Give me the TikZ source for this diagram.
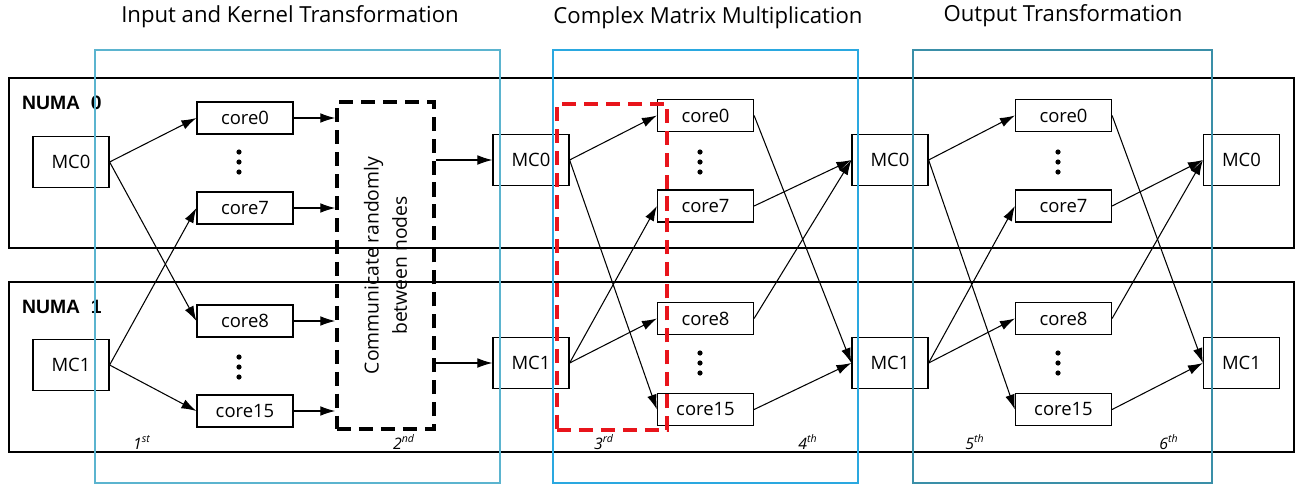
\documentclass[tikz,border=0pt]{standalone}
\usepackage{fontspec}
\setmainfont{Open Sans}
\setsansfont{Liberation Sans}
\usetikzlibrary{arrows.meta,positioning,shapes,fit,calc}

\definecolor{phaseA}{HTML}{5BB4CF}
\definecolor{phaseB}{HTML}{2AA8E0}
\definecolor{phaseC}{HTML}{3A8FA8}
\definecolor{pickred}{HTML}{E8141B}

\tikzset{
  numabox/.style={draw,line width=1.1pt,minimum width=25.7cm,minimum height=3.4cm,inner sep=0pt},
  numalabel/.style={anchor=west,font=\sffamily\bfseries\fontsize{11}{12}\selectfont},
  phasebox/.style={draw,line width=1pt,minimum width=#1,minimum height=8.66cm,inner sep=0pt},
  mcbox/.style={draw,line width=0.7pt,minimum width=1.52cm,minimum height=1.02cm,inner sep=0pt,font=\fontsize{10.5}{12}\selectfont},
  corebox/.style={draw,line width=0.7pt,minimum width=1.92cm,minimum height=0.64cm,inner sep=0pt,font=\fontsize{10.5}{12}\selectfont},
  arr/.style={-{Latex[length=8.5pt,width=5.5pt]},line width=0.6pt},
  groupbox/.style={line width=2pt,dash pattern=on 8pt off 4.5pt},
  phasetitle/.style={font=\fontsize{12.6}{15}\selectfont},
  order/.style={anchor=base,font=\itshape\fontsize{9}{10}\selectfont},
}

\begin{document}
\begin{tikzpicture}[x=0.02cm,y=-0.02cm]
  \useasboundingbox (0,0) rectangle (1296,487);

  % NUMA regions
  \node[numabox] (numa0) at (651.5,163) {};
  \node[numabox] (numa1) at (651.5,367) {};
  \node[numalabel] (numa0l) at (16,103) {NUMA\ \ 0};
  \node[numalabel] (numa1l) at (16,307) {NUMA\ \ 1};

  % memory controllers
  \node[mcbox] (mc0a) at (71,162) {MC0};
  \node[mcbox] (mc1a) at (71,365) {MC1};
  \node[mcbox] (mc0b) at (531,160) {MC0};
  \node[mcbox] (mc1b) at (531,363) {MC1};
  \node[mcbox] (mc0c) at (890,160) {MC0};
  \node[mcbox] (mc1c) at (890,363) {MC1};
  \node[mcbox] (mc0d) at (1241.5,160) {MC0};
  \node[mcbox] (mc1d) at (1241.5,363) {MC1};

  % cores
  \node[corebox] (core0a) at (245,118) {core0};
  \node[corebox] (core7a) at (245,208) {core7};
  \node[corebox] (core8a) at (245,321) {core8};
  \node[corebox] (core15a) at (245,411) {core15};
  \node[corebox] (core0b) at (705.5,115.5) {core0};
  \node[corebox] (core7b) at (705.5,206) {core7};
  \node[corebox] (core8b) at (705.5,318.5) {core8};
  \node[corebox] (core15b) at (705.5,409.5) {core15};
  \node[corebox] (core0c) at (1063.5,115.5) {core0};
  \node[corebox] (core7c) at (1063.5,206) {core7};
  \node[corebox] (core8c) at (1063.5,318.5) {core8};
  \node[corebox] (core15c) at (1063.5,409.5) {core15};

  % vertical dots
  \foreach \x/\y in {239/152,239/357,700/152,700/353,1058/152,1058/353}
    \foreach \d in {0,10,20}
      \fill (\x,\y+\d) circle (2.6);

  % random exchange
  \node[draw,groupbox,minimum width=1.94cm,minimum height=6.54cm] (comm) at (385.5,265.5) {};
  \node[rotate=90,align=center,font=\fontsize{11}{16}\selectfont] (commtext) at (comm.center) {Communicate randomly\\between nodes};

  % stage 1
  \draw[arr] (mc0a.east) -- (core0a.west);
  \draw[arr] (mc0a.east) -- (core8a.west);
  \draw[arr] (mc1a.east) -- (core7a.west);
  \draw[arr] (mc1a.east) -- (core15a.west);
  \draw[arr] (core0a) -- (core0a -| comm.west);
  \draw[arr] (core7a) -- (core7a -| comm.west);
  \draw[arr] (core8a) -- (core8a -| comm.west);
  \draw[arr] (core15a) -- (core15a -| comm.west);
  \draw[arr] (comm.east |- mc0b) -- (mc0b);
  \draw[arr] (comm.east |- mc1b) -- (mc1b);

  % stage 2
  \draw[arr] (mc0b.east) -- (core0b.west);
  \draw[arr] (mc0b.east) -- (core15b.west);
  \draw[arr] (mc1b.east) -- (core7b.west);
  \draw[arr] (mc1b.east) -- (core8b.west);
  \draw[arr] (core0b.east) -- (mc1c.west);
  \draw[arr] (core7b.east) -- (mc0c.west);
  \draw[arr] (core8b.east) -- (mc0c.west);
  \draw[arr] (core15b.east) -- (mc1c.west);

  % stage 3
  \draw[arr] (mc0c.east) -- (core0c.west);
  \draw[arr] (mc0c.east) -- (core15c.west);
  \draw[arr] (mc1c.east) -- (core7c.west);
  \draw[arr] (mc1c.east) -- (core8c.west);
  \draw[arr] (core0c.east) -- (mc1d.west);
  \draw[arr] (core7c.east) -- (mc0d.west);
  \draw[arr] (core8c.east) -- (mc0d.west);
  \draw[arr] (core15c.east) -- (mc1d.west);

  % highlighted core group
  \node[draw=pickred,groupbox,minimum width=2.2cm,minimum height=6.52cm] (pick) at (612,267) {};

  % phases
  \node[phasebox=8.1cm,draw=phaseA] (phase1) at (297.5,266.5) {};
  \node[phasebox=6.1cm,draw=phaseB] (phase2) at (705.5,266.5) {};
  \node[phasebox=5.98cm,draw=phaseC] (phase3) at (1062.5,266.5) {};
  \node[phasetitle] (title1) at (290,17) {Input and Kernel Transformation};
  \node[phasetitle] (title2) at (708,18) {Complex Matrix Multiplication};
  \node[phasetitle] (title3) at (1063,16) {Output Transformation};

  % steps
  \node[order] (s1) at (142,449) {1\textsuperscript{st}};
  \node[order] (s2) at (404,449) {2\textsuperscript{nd}};
  \node[order] (s3) at (604,449) {3\textsuperscript{rd}};
  \node[order] (s4) at (808,449) {4\textsuperscript{th}};
  \node[order] (s5) at (975,449) {5\textsuperscript{th}};
  \node[order] (s6) at (1169,449) {6\textsuperscript{th}};
\end{tikzpicture}
\end{document}
